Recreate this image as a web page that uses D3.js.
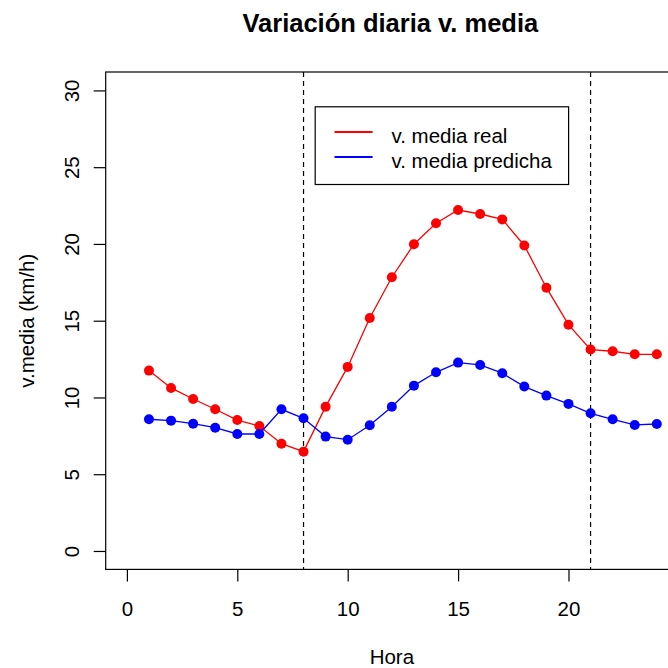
<!DOCTYPE html>
<html>
<head>
<meta charset="utf-8">
<script src="https://cdn.jsdelivr.net/npm/d3@7"></script>
<style>
  html, body { margin: 0; padding: 0; background: #fff; }
  svg text { font-family: "Liberation Sans", Arial, Helvetica, sans-serif; fill: #000; }
</style>
</head>
<body>
<svg id="chart" width="668" height="668"></svg>
<script>
// Hourly mean speed: observed vs predicted
const horas = d3.range(1, 25);
const mediaReal = [11.75, 10.62, 9.9, 9.23, 8.53, 8.14, 6.99, 6.47, 9.4, 11.99,
                   15.18, 17.83, 19.98, 21.35, 22.21, 21.95, 21.6, 19.9, 17.15, 14.74,
                   13.12, 13.01, 12.81, 12.81];
const mediaPredicha = [8.58, 8.49, 8.29, 8.03, 7.62, 7.62, 9.23, 8.64, 7.45, 7.25,
                       8.19, 9.4, 10.77, 11.64, 12.27, 12.12, 11.58, 10.71, 10.12, 9.58,
                       8.97, 8.58, 8.21, 8.27];
const xTicks = [0, 5, 10, 15, 20];
const yTicks = [0, 5, 10, 15, 20, 25, 30];
const cortes = [8, 21];
const series = [
  { name: "v. media real", values: mediaReal, color: "#ff0000" },
  { name: "v. media predicha", values: mediaPredicha, color: "#0000ff" }
];

const svg = d3.select("#chart");
const plotL = 105.7, plotR = 678, plotT = 72, plotB = 569.4;
const fs = 20.5;

// R-style 4% padded ranges
const x = d3.scaleLinear().domain([-0.96, 24.96]).range([plotL, plotR]);
const y = d3.scaleLinear().domain([-1.2, 31.2]).range([plotB, plotT]);

// plot frame
svg.append("rect")
  .attr("x", plotL).attr("y", plotT)
  .attr("width", plotR - plotL).attr("height", plotB - plotT)
  .attr("fill", "none").attr("stroke", "#000").attr("stroke-width", 1.2);

// x axis
const xAxis = svg.append("g")
  .attr("transform", `translate(0,${plotB})`)
  .call(d3.axisBottom(x).tickValues(xTicks).tickSize(12).tickPadding(20).tickFormat(d3.format("d")));
xAxis.select(".domain").remove();
xAxis.selectAll("line").attr("stroke-width", 1.2);
xAxis.selectAll("text").attr("font-size", fs);

// y axis with rotated labels
const yAxis = svg.append("g")
  .attr("transform", `translate(${plotL},0)`)
  .call(d3.axisLeft(y).tickValues(yTicks).tickSize(12).tickFormat(d3.format("d")));
yAxis.select(".domain").remove();
yAxis.selectAll("line").attr("stroke-width", 1.2);
yAxis.selectAll("text")
  .attr("font-size", fs)
  .attr("text-anchor", "middle")
  .attr("dy", "0.35em")
  .attr("x", null)
  .attr("transform", "translate(-34,0) rotate(-90)");

// reference lines
svg.append("g").selectAll("line").data(cortes).join("line")
  .attr("x1", d => x(d)).attr("x2", d => x(d))
  .attr("y1", plotT).attr("y2", plotB)
  .attr("stroke", "#000").attr("stroke-width", 1.2)
  .attr("stroke-dasharray", "5,4");

// series lines and points
const line = d3.line().x((d, i) => x(horas[i])).y(d => y(d));
series.forEach(s => {
  svg.append("path")
    .attr("d", line(s.values))
    .attr("fill", "none").attr("stroke", s.color).attr("stroke-width", 1.3);
  svg.append("g").selectAll("circle").data(s.values).join("circle")
    .attr("cx", (d, i) => x(horas[i])).attr("cy", d => y(d))
    .attr("r", 5).attr("fill", s.color);
});

// legend
const lg = svg.append("g");
lg.append("rect")
  .attr("x", 315.2).attr("y", 106.8).attr("width", 253.4).attr("height", 77.7)
  .attr("fill", "#fff").attr("stroke", "#000").attr("stroke-width", 1.2);
series.forEach((s, i) => {
  const ly = 132 + i * 25;
  lg.append("line")
    .attr("x1", 334.5).attr("x2", 372.6).attr("y1", ly).attr("y2", ly)
    .attr("stroke", s.color).attr("stroke-width", 2.2);
  lg.append("text")
    .attr("x", 391.5).attr("y", ly + 11)
    .attr("font-size", fs).text(s.name);
});

// titles
svg.append("text")
  .attr("x", (plotL + plotR) / 2 - 1.5).attr("y", 31.5)
  .attr("text-anchor", "middle").attr("font-size", 25.5).attr("font-weight", "bold")
  .text("Variación diaria v. media");
svg.append("text")
  .attr("x", (plotL + plotR) / 2).attr("y", 664)
  .attr("text-anchor", "middle").attr("font-size", fs)
  .text("Hora");
svg.append("text")
  .attr("transform", `translate(33.5,${(plotT + plotB) / 2}) rotate(-90)`)
  .attr("text-anchor", "middle").attr("font-size", fs)
  .text("v.media (km/h)");
</script>
</body>
</html>
